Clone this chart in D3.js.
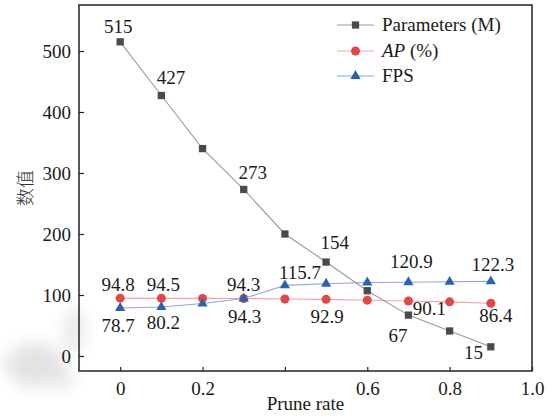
<!DOCTYPE html>
<html><head><meta charset="utf-8">
<script src="https://cdn.jsdelivr.net/npm/d3@7"></script>
<style>
html,body{margin:0;padding:0;background:#fff;}
svg{display:block;}
</style></head>
<body>
<svg id="chart" width="550" height="419"></svg>
<script>
// ---- data ----
const pruneRate = [0, 0.1, 0.2, 0.3, 0.4, 0.5, 0.6, 0.7, 0.8, 0.9];
const paramsM   = [515, 427, 340, 273, 200, 154, 107, 67, 41, 15];
const apPct     = [94.8, 94.5, 94.4, 94.3, 93.5, 92.9, 91.5, 90.1, 88.8, 86.4];
const fps       = [78.7, 80.2, 86.0, 94.3, 115.7, 118.5, 120.5, 120.9, 121.6, 122.3];
const xTickValues = [0, 0.2, 0.4, 0.6, 0.8, 1.0];
const xTickLabels = ["0", "0.2", "", "0.6", "0.8", "1.0"];
const yTickValues = [0, 100, 200, 300, 400, 500];
const seriesNames = ["Parameters (M)", "AP", "FPS"];
const paramsLabelIdx = [0, 1, 3, 5, 7, 9];
const apLabelIdx = [0, 1, 3, 5, 7, 9];
const fpsLabelIdx = [0, 1, 3, 4, 7, 9];

// label offsets (layout only)
const paramsLabelOff = [[-2,-9],[9.6,-12],[9,-10.5],[8.7,-13],[-10.4,26.5],[-17.4,12.5]];
const apLabelOff = [[-2,-7],[2,-7.5],[0,-7.5],[1,24],[21,14],[5,19]];
const fpsLabelOff = [[-2,24],[2,22],[1,25],[15,-6],[3,-14],[2,-10.7]];

const SERIF = '"Liberation Serif"';
const svg = d3.select("#chart");
const L = 79, R = 532, T = 5, B = 371;
const x = d3.scaleLinear().domain([-0.1, 1.0]).range([L, R]);
const y = d3.scaleLinear().domain([-24.6, 575.4]).range([B, T]);

// faint watermark blobs
const defs = svg.append("defs");
defs.append("filter").attr("id","blur").attr("x","-50%").attr("y","-50%").attr("width","200%").attr("height","200%")
  .append("feGaussianBlur").attr("stdDeviation", 8);
const wm = svg.append("g").attr("filter","url(#blur)").attr("opacity",0.16);
wm.append("ellipse").attr("cx",35).attr("cy",365).attr("rx",30).attr("ry",22).attr("fill","#555");
wm.append("ellipse").attr("cx",74).attr("cy",330).attr("rx",9).attr("ry",24).attr("fill","#666");
wm.append("ellipse").attr("cx",64).attr("cy",380).attr("rx",10).attr("ry",8).attr("fill","#555");

const fsz = 19;
const colors = {params:"#4a4a4a", ap:"#e04848", fps:"#2a62ae"};
const lineColors = {params:"#9a9a9a", ap:"#f2a4a4", fps:"#8ca6d8"};

function serif(sel){ return sel.style("font-family",SERIF).style("font-size",fsz+"px").style("fill","#1a1a1a"); }

// axes
const gx = svg.append("g").attr("transform",`translate(0,${B})`)
  .call(d3.axisBottom(x).tickValues(xTickValues).tickSize(-4).tickPadding(0)
    .tickFormat((d,i)=>xTickLabels[i]));
gx.select(".domain").remove();
gx.selectAll(".tick line").attr("stroke","#222").attr("stroke-width",1.2);
serif(gx.selectAll(".tick text").attr("y",23.5).attr("dy",null));

const gy = svg.append("g").attr("transform",`translate(${L},0)`)
  .call(d3.axisLeft(y).tickValues(yTickValues).tickSize(-5).tickPadding(8).tickFormat(d3.format("d")));
gy.select(".domain").remove();
gy.selectAll(".tick line").attr("stroke","#222").attr("stroke-width",1.2);
serif(gy.selectAll(".tick text").attr("dy","0.34em"));

// frame
svg.append("rect").attr("x",L).attr("y",T).attr("width",R-L).attr("height",B-T)
  .attr("fill","none").attr("stroke","#222").attr("stroke-width",1.5);

// axis titles
serif(svg.append("text").attr("x",(L+R)/2).attr("y",410).attr("text-anchor","middle")).text("Prune rate");
svg.append("text").attr("transform",`translate(32,${(T+B)/2}) rotate(-90)`)
  .attr("text-anchor","middle")
  .style("font-family",'"Noto Sans CJK SC",sans-serif').style("font-size","18px").style("font-weight",300)
  .style("fill","#333").text("数值");

const line = d3.line().x((d,i)=>x(pruneRate[i])).y(d=>y(d));
const symSquare = d3.symbol().type(d3.symbolSquare).size(53);
const symCircle = d3.symbol().type(d3.symbolCircle).size(64);
const symTri = d3.symbol().type(d3.symbolTriangle).size(45);

function drawSeries(vals, key, sym){
  svg.append("path").datum(vals).attr("d",line).attr("fill","none")
    .attr("stroke",lineColors[key]).attr("stroke-width",1.1);
  svg.append("g").selectAll("path").data(vals).join("path")
    .attr("d",sym).attr("fill",colors[key])
    .attr("transform",(d,i)=>`translate(${x(pruneRate[i])},${y(d)})`);
}
drawSeries(apPct, "ap", symCircle);
drawSeries(fps, "fps", symTri);
drawSeries(paramsM, "params", symSquare);

function drawLabels(vals, idx, off, fmt){
  serif(svg.append("g").selectAll("text").data(idx).join("text")
    .attr("x",(d,j)=>x(pruneRate[d])+off[j][0])
    .attr("y",(d,j)=>y(vals[d])+off[j][1])
    .attr("text-anchor","middle"))
    .text(d=>fmt(vals[d]));
}
drawLabels(paramsM, paramsLabelIdx, paramsLabelOff, d=>String(d));
drawLabels(apPct, apLabelIdx, apLabelOff, d=>d.toFixed(1));
drawLabels(fps, fpsLabelIdx, fpsLabelOff, d=>d.toFixed(1));

// legend
const legY = [25, 51, 76];
const legKeys = ["params","ap","fps"];
const legSyms = [symSquare, symCircle, symTri];
const leg = svg.append("g");
legKeys.forEach((k,i)=>{
  leg.append("line").attr("x1",337).attr("x2",374).attr("y1",legY[i]).attr("y2",legY[i])
    .attr("stroke",lineColors[k]).attr("stroke-width",1.1);
  leg.append("path").attr("d",legSyms[i]).attr("fill",colors[k])
    .attr("transform",`translate(355.5,${legY[i]})`);
  const t = serif(leg.append("text").attr("x",382).attr("y",legY[i]).attr("dy","0.34em"));
  if(k==="ap"){
    t.append("tspan").style("font-style","italic").text(seriesNames[1]);
    t.append("tspan").text(" (%)");
  } else {
    t.text(seriesNames[i]);
  }
});
</script>
</body></html>
